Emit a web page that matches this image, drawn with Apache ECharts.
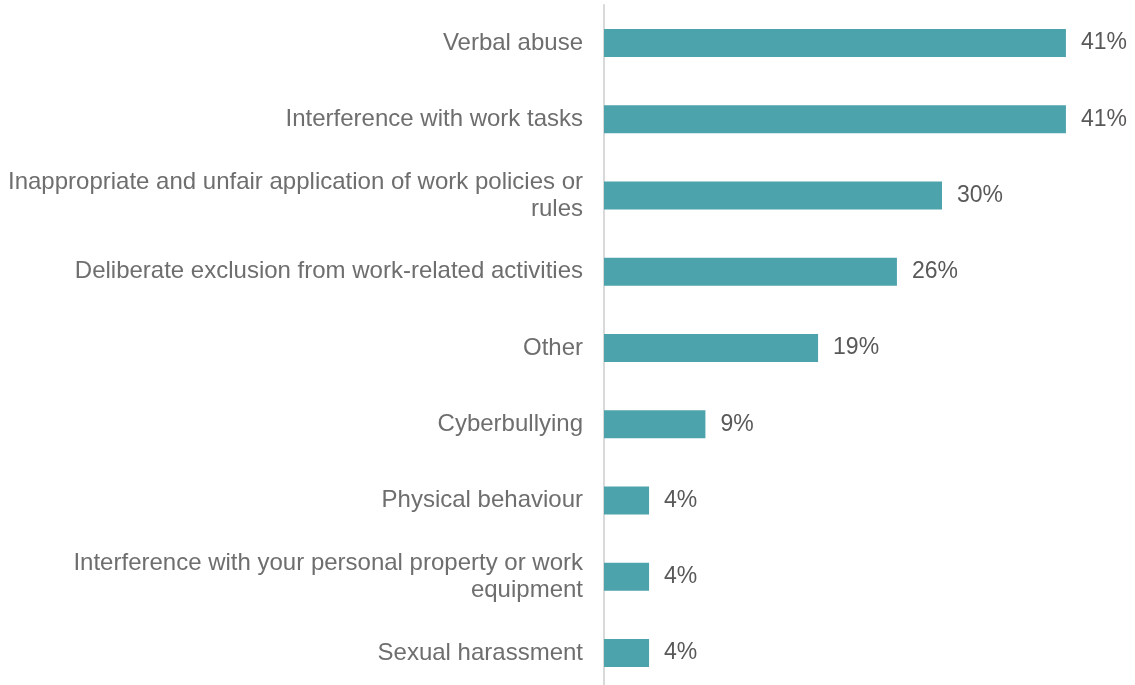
<!DOCTYPE html>
<html>
<head>
<meta charset="utf-8">
<script src="https://cdn.jsdelivr.net/npm/echarts@6/dist/echarts.min.js"></script>
<style>
  html, body { margin: 0; padding: 0; background: #ffffff; }
  #chart { width: 1135px; height: 685px; }
</style>
</head>
<body>
<div id="chart"></div>
<script>
// Forms of workplace bullying reported (% of respondents)
const categories = [
  'Verbal abuse',
  'Interference with work tasks',
  'Inappropriate and unfair application of work policies or rules',
  'Deliberate exclusion from work-related activities',
  'Other',
  'Cyberbullying',
  'Physical behaviour',
  'Interference with your personal property or work equipment',
  'Sexual harassment'
];
const percentages = [41, 41, 30, 26, 19, 9, 4, 4, 4];

const LABEL_FONT = '24px "Liberation Sans", Arial, sans-serif';
const LABEL_MAX_WIDTH = 580;

// Word-wrap a category name so every line fits the label column,
// without leaving trailing spaces that would break the right alignment.
const measureCtx = document.createElement('canvas').getContext('2d');
measureCtx.font = LABEL_FONT;
function wrapLabel(text) {
  const words = text.split(' ');
  const lines = [];
  let line = '';
  for (const w of words) {
    const trial = line ? line + ' ' + w : w;
    if (line && measureCtx.measureText(trial).width > LABEL_MAX_WIDTH) {
      lines.push(line);
      line = w;
    } else {
      line = trial;
    }
  }
  if (line) lines.push(line);
  return lines.join('\n');
}

const chart = echarts.init(document.getElementById('chart'), null, { renderer: 'canvas' });

chart.setOption({
  animation: false,
  backgroundColor: '#ffffff',
  grid: {
    left: 604, top: 5, width: 507, height: 686,
    containLabel: false,
    outerBoundsMode: 'none'
  },
  xAxis: {
    type: 'value',
    min: 0,
    max: 45,
    show: false
  },
  yAxis: {
    type: 'category',
    inverse: true,
    data: categories,
    axisLine: { show: true, lineStyle: { color: '#d9d9d9', width: 2 } },
    axisTick: { show: false },
    splitLine: { show: false },
    axisLabel: {
      margin: 21,
      color: '#6e6e6e',
      fontFamily: '"Liberation Sans", Arial, sans-serif',
      fontSize: 24,
      lineHeight: 27,
      align: 'right',
      formatter: v => wrapLabel(v)
    }
  },
  series: [{
    type: 'bar',
    data: percentages,
    barWidth: 28,
    itemStyle: { color: '#4ca3ac' },
    label: {
      show: true,
      position: 'right',
      distance: 15,
      color: '#595959',
      fontFamily: '"Liberation Sans", Arial, sans-serif',
      fontSize: 23,
      formatter: p => p.value + '%'
    }
  }]
});
</script>
</body>
</html>
